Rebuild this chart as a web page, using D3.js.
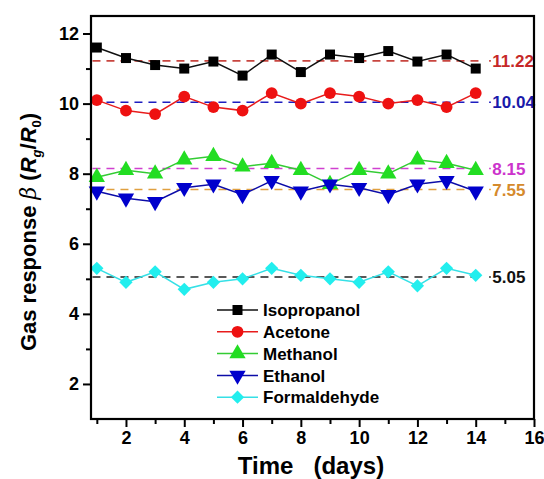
<!DOCTYPE html>
<html>
<head>
<meta charset="utf-8">
<script src="https://cdn.jsdelivr.net/npm/d3@7"></script>
<style>
  body { margin: 0; background: #fff; }
  svg text { font-family: "Liberation Sans", Arial, sans-serif; font-weight: bold; }
</style>
</head>
<body>
<div id="chart"></div>
<script>
const w = 544;
const h = 479;
const margin = { top: 16, right: 10, bottom: 60, left: 91 };

const days = [1, 2, 3, 4, 5, 6, 7, 8, 9, 10, 11, 12, 13, 14];
const gases = ["Isopropanol", "Acetone", "Methanol", "Ethanol", "Formaldehyde"];
const isopropanol = [11.6, 11.3, 11.1, 11.0, 11.2, 10.8, 11.4, 10.9, 11.4, 11.3, 11.5, 11.2, 11.4, 11.0];
const acetone = [10.1, 9.8, 9.7, 10.2, 9.9, 9.8, 10.3, 10.0, 10.3, 10.2, 10.0, 10.1, 9.9, 10.3];
const methanol = [7.9, 8.1, 8.0, 8.4, 8.5, 8.2, 8.3, 8.1, 7.7, 8.1, 8.0, 8.4, 8.3, 8.1];
const ethanol = [7.5, 7.3, 7.2, 7.6, 7.7, 7.4, 7.8, 7.5, 7.7, 7.6, 7.4, 7.7, 7.8, 7.5];
const formaldehyde = [5.3, 4.9, 5.2, 4.7, 4.9, 5.0, 5.3, 5.1, 5.0, 4.9, 5.2, 4.8, 5.3, 5.1];
const means = [11.22, 10.04, 8.15, 7.55, 5.05];
const meanLabels = ["11.22", "10.04", "8.15", "7.55", "5.05"];
const xTicks = [2, 4, 6, 8, 10, 12, 14, 16];
const yTicks = [2, 4, 6, 8, 10, 12];

const lineColor = ["#111111", "#e81c1c", "#33cc33", "#0c0ca8", "#35e0e6"];
const markerFill = ["#000000", "#ee1111", "#22dd22", "#0000cc", "#22eeee"];
const meanColor = ["#c8453f", "#1d1dc0", "#d040d0", "#e0a040", "#222222"];
const labelColor = ["#c62828", "#1a1aaa", "#cc33cc", "#d58a2c", "#111111"];
const symbols = [d3.symbolSquare, d3.symbolCircle, d3.symbolTriangle, d3.symbolTriangle, d3.symbolSquare];
const symbolSize = [100, 110, 115, 115, 88];
const symbolRot = [0, 0, 0, 180, 45];

const series = [isopropanol, acetone, methanol, ethanol, formaldehyde];

const svg = d3.select("#chart").append("svg").attr("width", w).attr("height", h);

const x = d3.scaleLinear().domain([0.8, 16]).range([margin.left, w - margin.right]);
const y = d3.scaleLinear().domain([1, 12.5]).range([h - margin.bottom, margin.top]);

// mean reference lines
means.forEach((m, i) => {
  svg.append("line")
    .attr("x1", x(0.85)).attr("x2", x(14.3))
    .attr("y1", y(m)).attr("y2", y(m))
    .attr("stroke", meanColor[i]).attr("stroke-width", 1.6)
    .attr("stroke-dasharray", "8,6");
  svg.append("line")
    .attr("x1", x(14.46)).attr("x2", x(14.52))
    .attr("y1", y(m)).attr("y2", y(m))
    .attr("stroke", meanColor[i]).attr("stroke-width", 1.6);
  svg.append("text")
    .attr("x", x(14.57)).attr("y", y(m)).attr("dy", "0.36em")
    .attr("font-size", 17).attr("fill", labelColor[i])
    .text(meanLabels[i]);
});

// series
const line = d3.line().x((d, i) => x(days[i])).y((d) => y(d));
series.forEach((s, k) => {
  svg.append("path")
    .datum(s)
    .attr("d", line)
    .attr("fill", "none")
    .attr("stroke", lineColor[k])
    .attr("stroke-width", 1.5);
  svg.selectAll(null)
    .data(s)
    .enter()
    .append("path")
    .attr("d", d3.symbol().type(symbols[k]).size(symbolSize[k]))
    .attr("transform", (d, i) => `translate(${x(days[i])},${y(d)}) rotate(${symbolRot[k]})`)
    .attr("fill", markerFill[k]);
});

// axes
const xAxis = svg.append("g").attr("transform", `translate(0,${h - margin.bottom})`)
  .call(d3.axisBottom(x).tickValues(xTicks).tickSize(8).tickPadding(4));
const xMinor = svg.append("g").attr("transform", `translate(0,${h - margin.bottom})`)
  .call(d3.axisBottom(x).tickValues(d3.range(1, 16, 2)).tickSize(5).tickFormat(""));
const yAxis = svg.append("g").attr("transform", `translate(${margin.left},0)`)
  .call(d3.axisLeft(y).tickValues(yTicks).tickSize(8).tickPadding(4));
const yMinor = svg.append("g").attr("transform", `translate(${margin.left},0)`)
  .call(d3.axisLeft(y).tickValues(d3.range(3, 13, 2)).tickSize(5).tickFormat(""));

[xAxis, xMinor, yAxis, yMinor].forEach((g) => {
  g.select(".domain").remove();
  g.selectAll("line").attr("stroke", "#000").attr("stroke-width", 2);
  g.selectAll("text").attr("font-size", 18).attr("fill", "#000");
});

svg.append("rect")
  .attr("x", margin.left).attr("y", margin.top)
  .attr("width", w - margin.left - margin.right)
  .attr("height", h - margin.top - margin.bottom)
  .attr("fill", "none").attr("stroke", "#000").attr("stroke-width", 2.2);

// legend
const legend = svg.append("g").attr("transform", "translate(217,310)");
gases.forEach((g, k) => {
  const row = legend.append("g").attr("transform", `translate(0,${k * 21.8})`);
  row.append("line").attr("x1", 0).attr("x2", 41).attr("stroke", lineColor[k]).attr("stroke-width", 1.5);
  row.append("path")
    .attr("d", d3.symbol().type(symbols[k]).size(symbolSize[k]))
    .attr("transform", `translate(20.5,0) rotate(${symbolRot[k]})`)
    .attr("fill", markerFill[k]);
  row.append("text").attr("x", 46).attr("dy", "0.36em").attr("font-size", 17).text(g);
});

// axis titles
svg.append("text")
  .attr("x", 311).attr("y", 474)
  .attr("text-anchor", "middle").attr("font-size", 24)
  .attr("xml:space", "preserve")
  .text("Time   (days)");

const yt = svg.append("text")
  .attr("transform", "translate(36,232) rotate(-90)")
  .attr("text-anchor", "middle").attr("font-size", 22);
yt.append("tspan").text("Gas response ");
yt.append("tspan").attr("font-style", "italic").attr("font-weight", "normal").attr("font-family", "DejaVu Serif, serif").text("β");
yt.append("tspan").text("  (");
yt.append("tspan").attr("font-style", "italic").text("R");
yt.append("tspan").attr("font-size", 13).attr("font-style", "italic").attr("dy", 5).text("g");
yt.append("tspan").attr("dy", -5).text("/");
yt.append("tspan").attr("font-style", "italic").text("R");
yt.append("tspan").attr("font-size", 13).attr("dy", 5).text("0");
yt.append("tspan").attr("dy", -5).text(")");
</script>
</body>
</html>
